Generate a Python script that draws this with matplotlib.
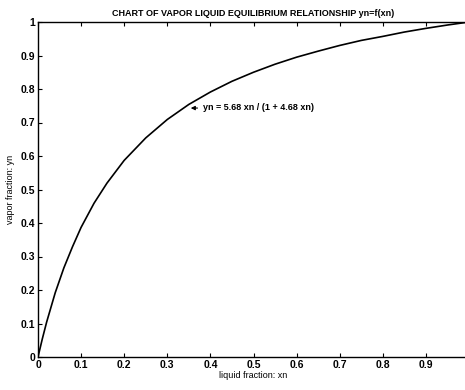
import matplotlib.pyplot as plt
import numpy as np

# points
xn = [0.0, 0.01, 0.02, 0.04, 0.06, 0.08, 0.10, 0.13, 0.16, 0.20, 0.25, 0.30,
      0.35, 0.40, 0.45, 0.50, 0.55, 0.60, 0.65, 0.70, 0.75, 0.80, 0.85, 0.90,
      0.95, 1.0]
yn = [0.0, 0.054, 0.104, 0.192, 0.266, 0.329, 0.387, 0.459, 0.519, 0.587,
      0.654, 0.709, 0.754, 0.791, 0.823, 0.850, 0.874, 0.895, 0.913, 0.930,
      0.945, 0.957, 0.970, 0.981, 0.991, 1.0]
xticks = [0, 0.1, 0.2, 0.3, 0.4, 0.5, 0.6, 0.7, 0.8, 0.9]
yticks = [0, 0.1, 0.2, 0.3, 0.4, 0.5, 0.6, 0.7, 0.8, 0.9, 1]

plt.rcParams['font.family'] = ['Liberation Sans', 'DejaVu Sans']

fig = plt.figure(figsize=(4.65, 3.90), dpi=100)
ax = fig.add_axes([38 / 465, 1 - 357 / 390, 431 / 465, 335 / 390])

ax.plot(xn, yn, color='black', linewidth=1.2)
ax.set_xlim(0, 1)
ax.set_ylim(0, 1)
ax.set_xticks(xticks)
ax.set_xticklabels(['0', '0.1', '0.2', '0.3', '0.4', '0.5', '0.6', '0.7', '0.8', '0.9'])
ax.set_yticks(yticks)
ax.set_yticklabels(['0', '0.1', '0.2', '0.3', '0.4', '0.5', '0.6', '0.7', '0.8', '0.9', '1'])
ax.tick_params(direction='in', top=True, right=True, length=3, labelsize=7.5, pad=2)
for lbl in ax.get_xticklabels() + ax.get_yticklabels():
    lbl.set_fontweight('bold')
for s in ax.spines.values():
    s.set_linewidth(1.0)

ax.annotate('yn = 5.68 xn / (1 + 4.68 xn)', xy=(0.348, 0.743), xytext=(0.383, 0.744),
            fontsize=6.5, va='center', ha='left', fontweight='bold',
            arrowprops=dict(arrowstyle='-|>', color='black', lw=0.8,
                            mutation_scale=6))

ax.set_title('CHART OF VAPOR LIQUID EQUILIBRIUM RELATIONSHIP yn=f(xn)', fontsize=6.5,
             fontweight='bold', pad=4)
ax.set_xlabel('liquid fraction: xn', fontsize=6.5, labelpad=1)
ax.set_ylabel('vapor fraction: yn', fontsize=6.5, labelpad=4)

fig.savefig('out.png', dpi=100)
